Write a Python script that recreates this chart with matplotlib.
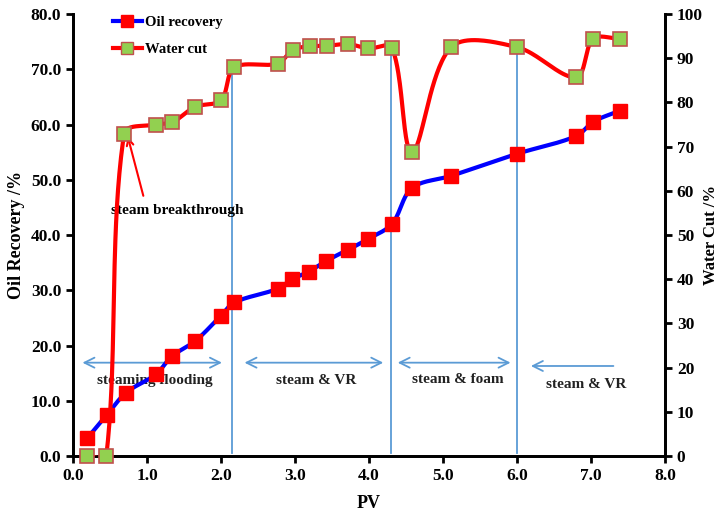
import numpy as np
import matplotlib.pyplot as plt

plt.rcParams['font.family'] = ['Liberation Serif', 'DejaVu Serif']
plt.rcParams['font.weight'] = 'bold'

# oil recovery (left axis, %)
pv_oil = [0.19, 0.46, 0.72, 1.12, 1.34, 1.65, 2.0, 2.18, 2.77, 2.96, 3.19, 3.42,
          3.71, 3.99, 4.31, 4.58, 5.11, 6.0, 6.8, 7.03, 7.39]
oil_rec = [3.2, 7.5, 11.5, 14.8, 18.1, 20.8, 25.4, 27.8, 30.3, 32.0, 33.4, 35.3,
           37.3, 39.3, 42.0, 48.5, 50.7, 54.7, 57.9, 60.5, 62.5]

# water cut (right axis, %)
pv_wc = [0.19, 0.45, 0.69, 1.12, 1.34, 1.65, 2.0, 2.18, 2.77, 2.97, 3.2, 3.43,
         3.72, 3.99, 4.31, 4.58, 5.11, 6.0, 6.8, 7.03, 7.39]
water_cut = [0.0, 0.0, 72.9, 75.0, 75.5, 79.0, 80.5, 87.9, 88.8, 91.9, 92.7, 92.8,
             93.2, 92.2, 92.4, 68.8, 92.5, 92.5, 85.7, 94.4, 94.4]

# stage boundaries
stage_pv = [2.15, 4.3, 6.0]
stage_top = [70.6, 74.4, 74.4]
stage_names = ["steaming flooding", "steam & VR", "steam & foam", "steam & VR"]
stage_label_pos = [(1.11, 13.6), (3.28, 13.6), (5.2, 13.9), (6.93, 13.0)]


def smooth(xs, ys, xscale, yscale, n=40):
    # smoothed line like Excel: cubic Bezier, tangents weighted by chord length
    p = np.column_stack([np.array(xs) * xscale, np.array(ys) * yscale])
    m = len(p)
    d = np.linalg.norm(np.diff(p, axis=0), axis=1)
    tang = np.zeros_like(p)
    for i in range(m):
        a = p[i - 1] if i > 0 else p[i]
        b = p[i + 1] if i < m - 1 else p[i]
        da = d[i - 1] if i > 0 else 0
        db = d[i] if i < m - 1 else 0
        tang[i] = (b - a) / max(da + db, 1e-9)
    pts = []
    for i in range(m - 1):
        c1 = p[i] + tang[i] * d[i] / 3
        c2 = p[i + 1] - tang[i + 1] * d[i] / 3
        t = np.linspace(0, 1, n)[:, None]
        seg = ((1 - t) ** 3 * p[i] + 3 * (1 - t) ** 2 * t * c1
               + 3 * (1 - t) * t ** 2 * c2 + t ** 3 * p[i + 1])
        pts.append(seg if i == 0 else seg[1:])
    pts = np.vstack(pts)
    return pts[:, 0] / xscale, pts[:, 1] / yscale


fig = plt.figure(figsize=(7.18, 5.13), dpi=100)
ax = fig.add_axes([0.1017, 0.111, 0.8245, 0.8617])
ax2 = ax.twinx()

blue = '#5B9BD5'

# stage lines and arrows
for x, top in zip(stage_pv, stage_top):
    ax.plot([x, x], [0.5, top], color=blue, lw=1.3, zorder=1)

arrow_kw = dict(arrowstyle='<->', color=blue, lw=1.3, mutation_scale=18)
ax.annotate('', xy=(2.05, 16.9), xytext=(0.09, 16.9), arrowprops=arrow_kw)
ax.annotate('', xy=(4.23, 16.9), xytext=(2.28, 16.9), arrowprops=arrow_kw)
ax.annotate('', xy=(5.95, 16.9), xytext=(4.35, 16.9), arrowprops=arrow_kw)
ax.annotate('', xy=(6.15, 16.3), xytext=(7.34, 16.3),
            arrowprops=dict(arrowstyle='->', color=blue, lw=1.3, mutation_scale=18))

for name, (x, y) in zip(stage_names, stage_label_pos):
    ax.text(x, y, name, ha='center', va='center', fontsize=11, fontweight='bold',
            color='#222222')

# oil recovery
sx, sy = smooth(pv_oil, oil_rec, 74, 5.525)
ax.plot(sx, sy, color='#0000FF', lw=3, zorder=3)
ax.plot(pv_oil, oil_rec, ls='none', marker='s', ms=10, mfc='#FF0000',
        mec='#FF0000', zorder=4, clip_on=False)

# water cut
wx, wy = smooth(pv_wc, water_cut, 74, 4.42)
ax2.plot(wx, wy, color='#FF0000', lw=3, zorder=3)
ax2.plot(pv_wc, water_cut, ls='none', marker='s', ms=10, mfc='#92D050',
         mec='#C0504D', mew=1.2, zorder=4, clip_on=False)

# legend handles
h1, = ax.plot([], [], color='#0000FF', lw=3, marker='s', ms=8, mfc='#FF0000',
              mec='#FF0000', label='Oil recovery')
h2, = ax.plot([], [], color='#FF0000', lw=3, marker='s', ms=8, mfc='#92D050',
              mec='#C0504D', label='Water cut')
ax.legend(handles=[h1, h2], loc='upper left', bbox_to_anchor=(0.045, 1.025),
          frameon=False, handlelength=2.0, handletextpad=0.2, labelspacing=0.95,
          prop={'family': 'Liberation Serif', 'weight': 'bold', 'size': 10.5})

ax.text(1.41, 44.5, 'steam breakthrough', ha='center', va='center',
        fontsize=11, fontweight='bold')
ax.annotate('', xy=(0.74, 57.8), xytext=(0.95, 47.1),
            arrowprops=dict(arrowstyle='->', color='#FF0000', lw=1.5,
                            shrinkA=0, shrinkB=0, mutation_scale=12))

ax.set_xlim(0, 8)
ax.set_ylim(0, 80)
ax2.set_ylim(0, 100)
ax.set_xticks(np.arange(0, 8.1, 1.0))
ax.set_xticklabels([f"{v:.1f}" for v in np.arange(0, 8.1, 1.0)])
ax.set_yticks(np.arange(0, 80.1, 10))
ax.set_yticklabels([f"{v:.1f}" for v in np.arange(0, 80.1, 10)])
ax2.set_yticks(np.arange(0, 101, 10))

for a in (ax, ax2):
    a.spines['top'].set_visible(False)
    for s in ('left', 'right', 'bottom'):
        a.spines[s].set_linewidth(2)
    a.tick_params(direction='out', width=2, length=5, labelsize=12.5)
    for lab in a.get_xticklabels() + a.get_yticklabels():
        lab.set_fontweight('bold')

ax.set_xlabel('PV', fontsize=13, fontweight='bold', labelpad=8)
ax.set_ylabel('Oil Recovery /%', fontsize=13, fontweight='bold', labelpad=4)
ax2.set_ylabel('Water Cut /%', fontsize=12, fontweight='bold', labelpad=0)

fig.savefig('out.png', dpi=100)
